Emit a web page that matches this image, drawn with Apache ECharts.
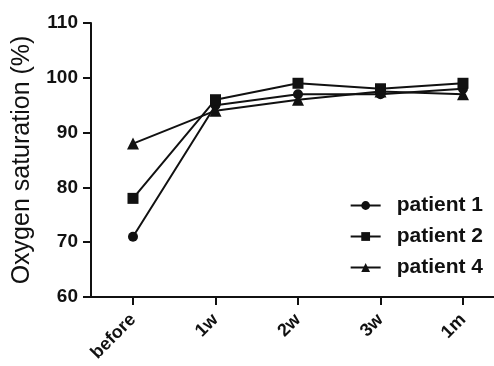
<!DOCTYPE html>
<html>
<head>
<meta charset="utf-8">
<script src="https://cdn.jsdelivr.net/npm/echarts@6/dist/echarts.min.js"></script>
<style>
  html, body { margin: 0; padding: 0; background: #fff; }
  #chart { width: 494px; height: 366px; }
</style>
</head>
<body>
<div id="chart"></div>
<script>
const categories = ['before', '1w', '2w', '3w', '1m']
const patient1 = [71, 95, 97, 97, 98]
const patient2 = [78, 96, 99, 98, 99]
const patient4 = [88, 94, 96, 97.5, 97]
const yTicks = [60, 70, 80, 90, 100, 110]

const FONT = '"Liberation Sans", Arial, sans-serif'
const toPoints = arr => arr.map((v, i) => [i, v])
const catIdx = categories.map((c, i) => i)

const chart = echarts.init(document.getElementById('chart'))

const mkSeries = (name, data, symbol, size) => ({
  name,
  type: 'line',
  data: toPoints(data),
  symbol,
  symbolSize: size,
  lineStyle: { color: '#111', width: 2 },
  itemStyle: { color: '#111' },
  animation: false
})

chart.setOption({
  animation: false,
  grid: { left: 91, right: 0, top: 23, bottom: 69, outerBoundsMode: 'none' },
  legend: {
    orient: 'vertical',
    right: 6,
    top: 190,
    itemWidth: 30,
    itemHeight: 11,
    itemGap: 10,
    textStyle: { fontFamily: FONT, fontSize: 21, fontWeight: 'bold', color: '#111', padding: [0, 0, 0, 11] },
    data: ['patient 1', 'patient 2', 'patient 4']
  },
  xAxis: {
    type: 'value',
    min: -0.509,
    max: 4.376,
    splitLine: { show: false },
    axisLine: { lineStyle: { color: '#111', width: 2 } },
    axisTick: { customValues: catIdx, length: 8, lineStyle: { color: '#111', width: 2 } },
    axisLabel: {
      customValues: catIdx,
      formatter: v => categories[Math.round(v)],
      rotate: 45,
      fontFamily: FONT,
      fontSize: 18,
      fontWeight: 'bold',
      color: '#111',
      margin: 20
    }
  },
  yAxis: {
    type: 'value',
    min: yTicks[0],
    max: yTicks[yTicks.length - 1],
    interval: 10,
    name: 'Oxygen saturation (%)',
    nameLocation: 'middle',
    nameGap: 56,
    nameTextStyle: { fontFamily: FONT, fontSize: 25, color: '#111' },
    splitLine: { show: false },
    axisLine: { show: true, onZero: false, lineStyle: { color: '#111', width: 2 } },
    axisTick: { show: true, length: 8, lineStyle: { color: '#111', width: 2 } },
    axisLabel: { fontFamily: FONT, fontSize: 19, fontWeight: 'bold', color: '#111', margin: 13 }
  },
  series: [
    mkSeries('patient 1', patient1, 'circle', 10),
    mkSeries('patient 2', patient2, 'rect', 11),
    mkSeries('patient 4', patient4, 'triangle', 12)
  ]
})
</script>
</body>
</html>
